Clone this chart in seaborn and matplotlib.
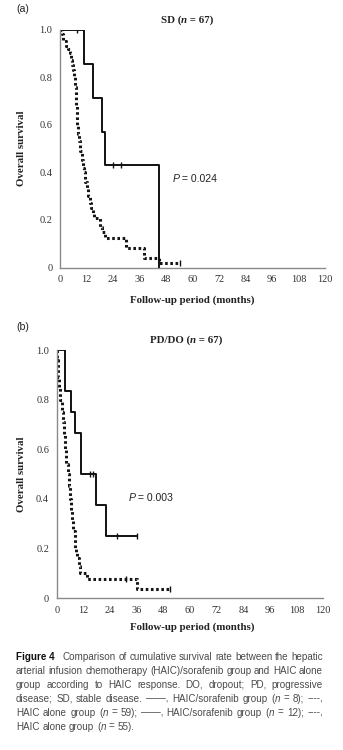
import numpy as np
import pandas as pd
import seaborn as sns
import matplotlib
matplotlib.use("Agg")
import matplotlib.pyplot as plt
from matplotlib.font_manager import FontProperties

# ---------------- data ----------------
# (a) SD group: Kaplan-Meier steps (time in months, survival after the event)
sd_combo_time = [0, 11.0, 14.8, 18.9, 20.5, 45.0]
sd_combo_surv = [1.0, 0.857, 0.714, 0.571, 0.429, 0.0]
sd_combo_cens_time = [7.5, 24.2, 27.5]
sd_combo_cens_surv = [1.0, 0.429, 0.429]

sd_alone_time = [0, 0.7, 1.5, 2.5, 3.5, 4.5, 5.0, 5.5, 6.0, 6.4, 6.8, 7.1, 7.4, 7.7,
                 7.9, 8.3, 8.6, 9.2, 9.8, 10.3, 10.9, 11.5, 12.2, 12.9, 13.4, 13.9,
                 14.8, 15.6, 18.0, 19.0, 20.5, 30.0, 38.0, 45.0, 54.5]
sd_alone_surv = [1.0, 0.98, 0.95, 0.93, 0.92, 0.90, 0.87, 0.85, 0.83, 0.80, 0.76, 0.72,
                 0.68, 0.64, 0.60, 0.56, 0.53, 0.49, 0.45, 0.42, 0.40, 0.36, 0.33, 0.30,
                 0.27, 0.25, 0.23, 0.21, 0.17, 0.15, 0.125, 0.08, 0.04, 0.02, 0.02]
sd_alone_cens_time = [54.5]
sd_alone_cens_surv = [0.02]

# (b) PD/DO group
pd_combo_time = [0, 3.7, 6.3, 8.2, 11.0, 17.5, 22.0, 36.0]
pd_combo_surv = [1.0, 0.833, 0.75, 0.667, 0.5, 0.375, 0.25, 0.25]
pd_combo_cens_time = [15.0, 16.3, 27.0, 36.0]
pd_combo_cens_surv = [0.5, 0.5, 0.25, 0.25]

pd_alone_time = [0, 0.3, 0.7, 1.2, 1.7, 2.2, 2.7, 3.2, 3.7, 4.2, 4.9, 5.4, 6.0, 6.5,
                 7.0, 7.5, 8.2, 8.6, 9.0, 10.0, 10.5, 13.8, 36.0, 51.0]
pd_alone_surv = [1.0, 0.96, 0.89, 0.85, 0.80, 0.75, 0.71, 0.66, 0.60, 0.54, 0.50, 0.45,
                 0.40, 0.35, 0.31, 0.27, 0.20, 0.18, 0.16, 0.13, 0.10, 0.075, 0.037, 0.037]
pd_alone_cens_time = [31.0, 51.0]
pd_alone_cens_surv = [0.075, 0.037]

x_ticks = [0, 12, 24, 36, 48, 60, 72, 84, 96, 108, 120]
y_ticks = [0, 0.2, 0.4, 0.6, 0.8, 1.0]
y_tick_labels = ["0", "0.2", "0.4", "0.6", "0.8", "1.0"]

panel_labels = ["(a)", "(b)"]
panel_groups = ["SD", "PD/DO"]
panel_n = [67, 67]
p_values = ["0.024", "0.003"]
p_pos = [(61, 0.36), (42.4, 0.39)]

# ---------------- style ----------------
sns.set_theme(style="white")
plt.rcParams["font.family"] = ["Liberation Serif", "DejaVu Serif"]

W, H = 343, 750
fig = plt.figure(figsize=(W / 100, H / 100), dpi=100)

SERIF = "Liberation Serif"
SANS = "Liberation Sans"
AX_GREY = "#8a8a8a"
TXT = "#222222"


def fx(px):
    return px / W


def fy(py):
    return 1 - py / H


renderer = fig.canvas.get_renderer()


def run_width(text, fp):
    t = fig.text(0, 0, text, fontproperties=fp)
    w = t.get_window_extent(renderer).width
    t.remove()
    return w


def draw_runs(x_px, y_px, runs, ha="left", color=TXT):
    """Draw a row of differently styled pieces of text on one baseline."""
    widths = [run_width(t, fp) for t, fp, *_ in runs]
    total = sum(widths)
    x = x_px - total / 2 if ha == "center" else x_px
    for (t, fp, *c), w in zip(runs, widths):
        fig.text(fx(x), fy(y_px), t, fontproperties=fp,
                 color=c[0] if c else color, va="baseline", ha="left")
        x += w


def km_panel(ax_rect, combo_t, combo_s, combo_ct, combo_cs,
             alone_t, alone_s, alone_ct, alone_cs):
    ax = fig.add_axes(ax_rect)
    df_c = pd.DataFrame({"t": combo_t, "s": combo_s})
    df_a = pd.DataFrame({"t": alone_t, "s": alone_s})
    sns.lineplot(data=df_a, x="t", y="s", ax=ax, estimator=None, sort=False,
                 drawstyle="steps-post", color="#151515", linewidth=2.2,
                 dashes=False, linestyle=(0, (0.85, 0.85)))
    sns.lineplot(data=df_c, x="t", y="s", ax=ax, estimator=None, sort=False,
                 drawstyle="steps-post", color="#111111", linewidth=1.4)
    ax.plot(combo_ct, combo_cs, linestyle="none", marker="|", ms=4.5,
            mew=1.0, color="#111111")
    ax.plot(alone_ct, alone_cs, linestyle="none", marker="|", ms=4.5,
            mew=1.0, color="#111111")
    ax.set_xlim(0, 120)
    ax.set_ylim(0, 1.0)
    ax.set_xticks(x_ticks)
    ax.set_yticks(y_ticks)
    ax.set_yticklabels(y_tick_labels)
    ax.set_xlabel("")
    ax.set_ylabel("")
    for side in ["top", "right"]:
        ax.spines[side].set_visible(False)
    for side in ["left", "bottom"]:
        ax.spines[side].set_color(AX_GREY)
        ax.spines[side].set_linewidth(1.0)
    ax.tick_params(axis="both", direction="out", length=2.0, width=1.1,
                   color="#333333", labelsize=7.4, labelcolor="#333333",
                   pad=3.5)
    for lab in ax.get_xticklabels() + ax.get_yticklabels():
        lab.set_fontfamily(SERIF)
    ax.patch.set_alpha(0)
    return ax


fp_title_b = FontProperties(family=SERIF, weight="bold", size=7.8)
fp_title_bi = FontProperties(family=SERIF, weight="bold", style="italic", size=7.8)
fp_panel = FontProperties(family=SANS, size=7.6)
fp_p = FontProperties(family=SANS, size=7.6)
fp_p_it = FontProperties(family=SANS, style="italic", size=7.6)

# panel geometry in pixels: (left, right, top, bottom)
geoms = [(60, 325, 29.5, 267.5), (56.7, 323.3, 350, 598)]
panel_lab_pos = [(16, 12), (16, 330)]
title_pos = [(187, 23), (186, 343)]
xlabel_y = [303, 630]
ylabel_x = [22, 22]

series = [
    (sd_combo_time, sd_combo_surv, sd_combo_cens_time, sd_combo_cens_surv,
     sd_alone_time, sd_alone_surv, sd_alone_cens_time, sd_alone_cens_surv),
    (pd_combo_time, pd_combo_surv, pd_combo_cens_time, pd_combo_cens_surv,
     pd_alone_time, pd_alone_surv, pd_alone_cens_time, pd_alone_cens_surv),
]

for i in range(2):
    l, r, t, b = geoms[i]
    rect = [fx(l), fy(b), (r - l) / W, (b - t) / H]
    ax = km_panel(rect, *series[i])

    # P value annotation placed at a data position
    px, py = p_pos[i]
    disp = ax.transData.transform((px, py))
    draw_runs(disp[0], H - disp[1], [("P", fp_p_it), (" = " + p_values[i], fp_p)],
              ha="center", color="#222222")

    # panel letter
    draw_runs(panel_lab_pos[i][0], panel_lab_pos[i][1], [(panel_labels[i], fp_panel)])

    # title
    draw_runs(title_pos[i][0], title_pos[i][1],
              [(panel_groups[i] + " (", fp_title_b), ("n", fp_title_bi),
               (" = %d)" % panel_n[i], fp_title_b)], ha="center")

    # axis labels
    fig.text(fx(192), fy(xlabel_y[i]), "Follow-up period (months)",
             fontfamily=SERIF, fontweight="bold", fontsize=7.8, color=TXT,
             ha="center", va="baseline")
    fig.text(fx(ylabel_x[i]), fy((t + b) / 2), "Overall survival",
             fontfamily=SERIF, fontweight="bold", fontsize=7.8, color=TXT,
             ha="center", va="center", rotation=90)

# ---------------- caption ----------------
cap_lines = [
    "**Figure 4**  Comparison of cumulative survival rate between the hepatic",
    "arterial infusion chemotherapy (HAIC)/sorafenib group and HAIC alone",
    "group according to HAIC response. DO, dropout; PD, progressive",
    "disease; SD, stable disease. ——, HAIC/sorafenib group (*n* = 8); ----,",
    "HAIC alone group (*n* = 59); ——, HAIC/sorafenib group (*n* = 12); ----,",
    "HAIC alone group (*n* = 55).",
]
cap_size = 7.15
fp_cap = FontProperties(family=SANS, size=cap_size)
fp_cap_it = FontProperties(family=SANS, style="italic", size=cap_size)
fp_cap_b = FontProperties(family=SANS, weight="bold", size=cap_size)
CAP_COL = "#4a4a4a"

cap_left, cap_right = 16, 323
cap_base = [659.5, 673.5, 687.5, 701.5, 715.5, 729.5]
head_extra = 5.0   # wider space after the figure number


def parse_word(word):
    runs = []
    parts = word.split("*")
    for k, p in enumerate(parts):
        if p:
            runs.append((p, fp_cap_it if k % 2 else fp_cap, CAP_COL))
    return runs


space_w = run_width("a a", fp_cap) - run_width("aa", fp_cap)
for li, line in enumerate(cap_lines):
    extra = 0.0
    if line.startswith("**"):
        head, rest = line.split("**  ")
        words = [[(head.strip("*"), fp_cap_b, "#111111")]] + \
                [parse_word(w) for w in rest.split(" ")]
        extra = head_extra
    else:
        words = [parse_word(w) for w in line.split(" ")]
    word_w = [sum(run_width(t, fp) for t, fp, _ in w) for w in words]
    last = li == len(cap_lines) - 1
    if last or len(words) < 2:
        gap = space_w
    else:
        gap = (cap_right - cap_left - sum(word_w) - extra) / (len(words) - 1)
    x = cap_left
    for k, (w, ww) in enumerate(zip(words, word_w)):
        draw_runs(x, cap_base[li], w)
        x += ww + gap
        if k == 0:
            x += extra

fig.savefig("out.png", dpi=100)
